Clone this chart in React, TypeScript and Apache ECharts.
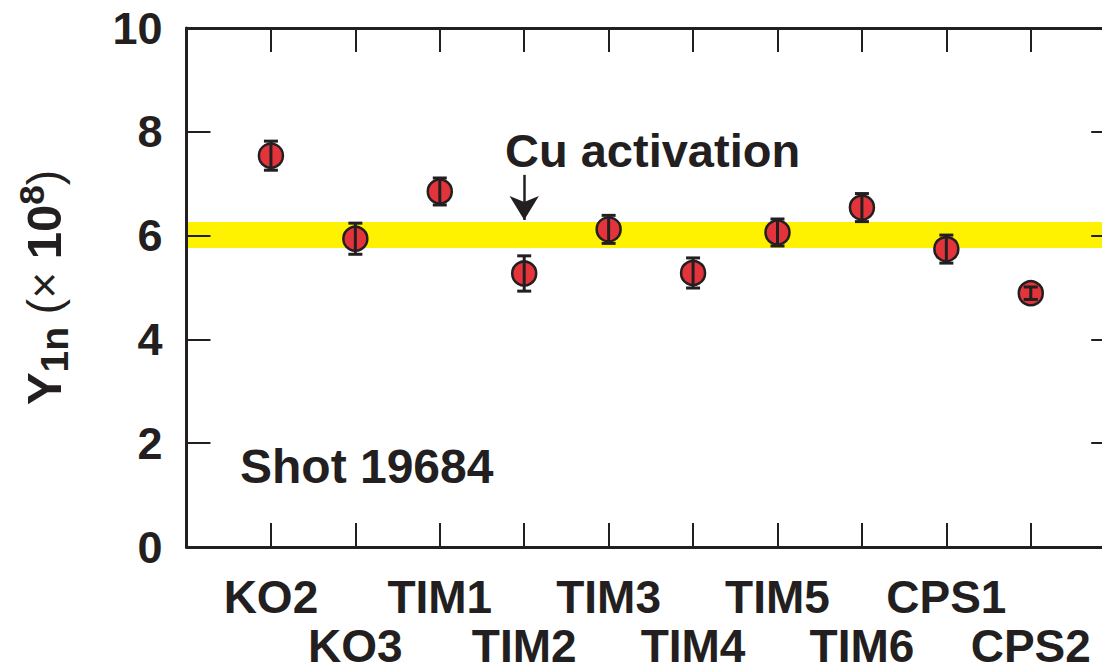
import React, { useEffect, useRef } from "react";
import * as echarts from "echarts";

const detectors = ["KO2", "KO3", "TIM1", "TIM2", "TIM3", "TIM4", "TIM5", "TIM6", "CPS1", "CPS2"];
const yieldValues = [7.54, 5.94, 6.85, 5.27, 6.12, 5.28, 6.06, 6.54, 5.74, 4.89];
const yieldErrors = [0.28, 0.3, 0.26, 0.34, 0.27, 0.29, 0.26, 0.27, 0.27, 0.12];
const cuBand = [5.76, 6.26];
const arrowFrom = [4, 7.17];
const arrowTo = [4, 6.3];
const yRange = [0, 10, 2];
const xRange = [0, 11, 1];

const INK = "#231f20";
const FONT = "'Liberation Sans', Arial, Helvetica, sans-serif";

export default function App() {
  const ref = useRef<HTMLDivElement>(null);
  useEffect(() => {
    if (!ref.current) return;
    const chart = echarts.init(ref.current, undefined, { renderer: "svg" });
    const points = detectors.map((_, i) => [i + 1, yieldValues[i]]);
    const errs = detectors.map((_, i) => [i + 1, yieldValues[i], yieldErrors[i]]);
    const xAxisCommon = {
      type: "value" as const,
      min: xRange[0],
      max: xRange[1],
      interval: xRange[2],
      splitLine: { show: false },
      axisLine: { show: true, onZero: false, lineStyle: { color: INK, width: 3 } },
      axisTick: { show: true, inside: true, length: 24, lineStyle: { color: INK, width: 2 } },
      z: 10,
    };
    const yAxisCommon = {
      type: "value" as const,
      min: yRange[0],
      max: yRange[1],
      interval: yRange[2],
      splitLine: { show: false },
      axisLine: { show: true, onZero: false, lineStyle: { color: INK, width: 3 } },
      axisTick: { show: true, inside: true, length: 24, lineStyle: { color: INK, width: 2 } },
      z: 10,
    };
    chart.setOption({
      animation: false,
      grid: {
        left: 186.5,
        top: 28,
        width: 928.7,
        height: 519,
        containLabel: false,
        outerBoundsMode: "none",
      },
      xAxis: [
        {
          ...xAxisCommon,
          position: "bottom",
          axisLabel: {
            show: true,
            margin: 25,
            fontFamily: FONT,
            fontWeight: "bold",
            fontSize: 46,
            color: INK,
            lineHeight: 49,
            formatter: (v: number) => {
              const i = Math.round(v) - 1;
              if (i < 0 || i >= detectors.length) return "";
              return i % 2 === 0 ? detectors[i] : "\n" + detectors[i];
            },
          },
        },
        { ...xAxisCommon, position: "top", axisLabel: { show: false } },
      ],
      yAxis: [
        {
          ...yAxisCommon,
          position: "left",
          axisLabel: {
            show: true,
            margin: 24,
            fontFamily: FONT,
            fontWeight: "bold",
            fontSize: 45,
            color: INK,
          },
          name: "{m|Y}{sub|1n}{r| (× }{m|10}{sup|8}{r|)}",
          nameLocation: "middle",
          nameGap: 113,
          nameTextStyle: {
            color: INK,
            fontFamily: FONT,
            rich: {
              m: { fontSize: 49, fontWeight: "bold", lineHeight: 60, color: INK, fontFamily: FONT },
              sub: { fontSize: 39, fontWeight: "bold", lineHeight: 29, verticalAlign: "bottom", color: INK, fontFamily: FONT },
              sup: { fontSize: 35, fontWeight: "bold", lineHeight: 33, verticalAlign: "top", color: INK, fontFamily: FONT },
              r: { fontSize: 46, fontWeight: "normal", lineHeight: 60, color: INK, fontFamily: FONT },
            },
          },
        },
        { ...yAxisCommon, position: "right", axisLabel: { show: false } },
      ],
      graphic: [
        {
          type: "text",
          left: 505,
          top: 127,
          style: {
            text: "Cu activation",
            fontFamily: FONT,
            fontWeight: "bold",
            fontSize: 47,
            fill: INK,
          },
          z: 20,
        },
        {
          type: "text",
          left: 240,
          top: 442,
          style: {
            text: "Shot 19684",
            fontFamily: FONT,
            fontWeight: "bold",
            fontSize: 48,
            fill: INK,
          },
          z: 20,
        },
      ],
      series: [
        {
          type: "scatter",
          data: points,
          symbol: "circle",
          symbolSize: 24,
          itemStyle: { color: "#e3343c", borderColor: INK, borderWidth: 2.5, opacity: 1 },
          emphasis: { disabled: true },
          z: 3,
          markArea: {
            silent: true,
            itemStyle: { color: "#fff200", opacity: 1 },
            data: [[{ yAxis: cuBand[0] }, { yAxis: cuBand[1] }]],
          },
          markLine: {
            silent: true,
            symbol: ["none", "arrow"],
            symbolSize: [22, 24],
            lineStyle: { color: INK, width: 2.5, type: "solid" },
            label: { show: false },
            data: [[{ coord: arrowFrom }, { coord: arrowTo }]],
          },
        },
        {
          type: "custom",
          data: errs,
          z: 4,
          silent: true,
          renderItem: (params: any, api: any) => {
            const x = api.value(0);
            const y = api.value(1);
            const e = api.value(2);
            const top = api.coord([x, y + e]);
            const bot = api.coord([x, y - e]);
            const hw = 7;
            const style = { stroke: INK, lineWidth: 3, fill: "none" };
            return {
              type: "group",
              children: [
                { type: "line", shape: { x1: top[0], y1: top[1], x2: bot[0], y2: bot[1] }, style },
                { type: "line", shape: { x1: top[0] - hw, y1: top[1], x2: top[0] + hw, y2: top[1] }, style },
                { type: "line", shape: { x1: bot[0] - hw, y1: bot[1], x2: bot[0] + hw, y2: bot[1] }, style },
              ],
            };
          },
        },
      ],
    });
    return () => chart.dispose();
  }, []);
  return (
    <div
      style={{ position: "absolute", left: 0, top: 0, width: 1102, height: 663, overflow: "hidden", background: "#fff" }}
    >
      <div ref={ref} style={{ width: 1130, height: 663 }} />
    </div>
  );
}
